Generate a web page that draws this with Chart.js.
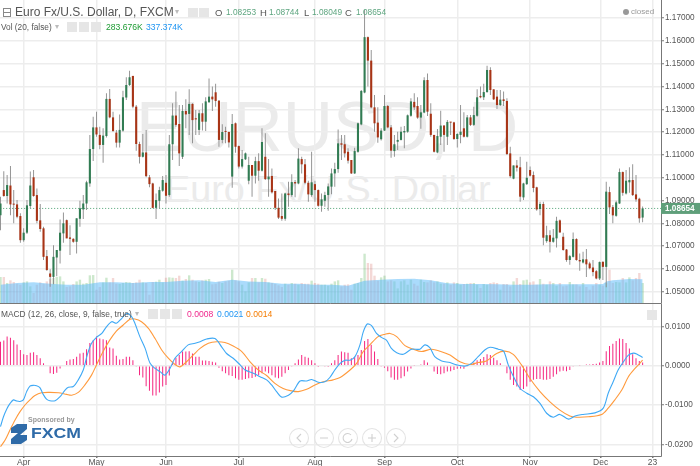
<!DOCTYPE html>
<html>
<head>
<meta charset="utf-8">
<title>EURUSD, D</title>
<script src="https://cdn.jsdelivr.net/npm/chart.js@4/dist/chart.umd.min.js"></script>
<style>
  html, body { margin: 0; padding: 0; background: #fff; }
  #page { position: relative; width: 700px; height: 466px; overflow: hidden; font-family: "Liberation Sans", Arial, sans-serif; color: #555; }
  canvas { position: absolute; left: 0; z-index: 1; }
  .txt { position: absolute; white-space: nowrap; z-index: 2; }
  .wm { position: absolute; white-space: nowrap; color: #ebebeb; z-index: 0; line-height: 1; }
  .ico { position: absolute; background: #e6e6e6; z-index: 2; }
</style>
</head>
<body>
<div id="page">
  <div class="wm" style="left:136px;top:93px;font-size:69.5px">EURUSD, D</div>
  <div class="wm" style="left:165px;top:171px;font-size:37.8px">Euro Fx/U.S. Dollar</div>

  <canvas id="priceChart" width="700" height="304" style="top:0"></canvas>
  <canvas id="macdChart" width="700" height="162" style="top:304px"></canvas>

  <div class="txt" style="left:3px;top:8px;width:6px;height:7px;border:1px solid #888"></div>
  <div class="txt" style="left:4px;top:12px;width:6px;height:1px;background:#888"></div>
  <div class="txt" style="left:15px;top:5px;font-size:12px">Euro Fx/U.S. Dollar, D, FXCM</div>
  <div class="txt" style="left:175px;top:7px;font-size:8px;color:#bbb">▾</div>
  <div class="ico" style="left:188px;top:8px;width:10px;height:9px"></div>
  <div class="ico" style="left:199px;top:8px;width:10px;height:9px"></div>
  <div class="txt" style="left:215px;top:7px;font-size:9.5px">O</div>
  <div class="txt" style="left:226px;top:7px;font-size:8.3px;color:#5da57f">1.08253</div>
  <div class="txt" style="left:260px;top:7px;font-size:9.5px">H</div>
  <div class="txt" style="left:269px;top:7px;font-size:8.3px;color:#5da57f">1.08744</div>
  <div class="txt" style="left:304px;top:7px;font-size:9.5px">L</div>
  <div class="txt" style="left:312px;top:7px;font-size:8.3px;color:#5da57f">1.08049</div>
  <div class="txt" style="left:345px;top:7px;font-size:9.5px">C</div>
  <div class="txt" style="left:356px;top:7px;font-size:8.3px;color:#5da57f">1.08654</div>
  <div class="txt" style="left:623px;top:9px;width:6px;height:6px;border-radius:50%;background:#999"></div>
  <div class="txt" style="left:631px;top:7px;font-size:8px;color:#999">closed</div>

  <div class="txt" style="left:1px;top:22px;font-size:8.3px">Vol (20, false)</div>
  <div class="txt" style="left:55px;top:22px;font-size:8px;color:#bbb">▾</div>
  <div class="ico" style="left:67px;top:22px;width:10px;height:10px"></div>
  <div class="ico" style="left:79px;top:22px;width:10px;height:10px"></div>
  <div class="ico" style="left:91px;top:22px;width:10px;height:10px"></div>
  <div class="txt" style="left:106px;top:22px;font-size:8.6px;color:#1e9c34">283.676K</div>
  <div class="txt" style="left:146px;top:22px;font-size:8.6px;color:#2196f3">337.374K</div>

  <div class="txt" style="left:1px;top:309px;font-size:8.4px">MACD (12, 26, close, 9, false, true)</div>
  <div class="txt" style="left:135px;top:309px;font-size:8px;color:#bbb">▾</div>
  <div class="ico" style="left:148px;top:309px;width:10px;height:10px"></div>
  <div class="ico" style="left:160px;top:309px;width:10px;height:10px"></div>
  <div class="ico" style="left:172px;top:309px;width:10px;height:10px"></div>
  <div class="txt" style="left:187px;top:309px;font-size:8.6px;color:#f0288c">0.0008</div>
  <div class="txt" style="left:217px;top:309px;font-size:8.6px;color:#2196f3">0.0021</div>
  <div class="txt" style="left:246px;top:309px;font-size:8.6px;color:#f57c00">0.0014</div>
  <div class="ico" style="left:647px;top:310px;width:10px;height:10px"></div>

  <div class="txt" style="left:28px;top:416px;font-size:7px;color:#999;font-weight:bold">Sponsored by</div>
  <svg class="txt" style="left:0;top:415px" width="90" height="35">
    <path d="M11 13 L17 9 L27 9 L27 14 L20 20 L27 20 L27 25 L21 29 L11 29 L11 24 L18 18 L11 18 Z" fill="#2f6ba8"/>
    <text x="31" y="23" font-size="15" font-weight="bold" fill="#2f6ba8" textLength="50" lengthAdjust="spacingAndGlyphs">FXCM</text>
  </svg>
  <svg class="txt" style="left:285px;top:425px" width="125" height="26" fill="none" stroke="#e4e4e4" stroke-width="1.1">
    <circle cx="14" cy="13" r="9.5"/><circle cx="39" cy="13" r="9.5"/><circle cx="63" cy="13" r="9.5"/><circle cx="87" cy="13" r="9.5"/><circle cx="111" cy="13" r="9.5"/>
    <path d="M16 9 L12 13 L16 17 M35 13 L43 13 M83 13 L91 13 M87 9 L87 17 M109 9 L113 13 L109 17" stroke="#d0d0d0"/>
    <path d="M66 10 A4.5 4.5 0 1 0 67 14" stroke="#d0d0d0"/>
  </svg>
</div>

<script>
const opens = [
  1.0836,1.0946,1.0920,1.0966,1.0885,1.0883,1.0832,1.0726,1.0759,1.0876,1.1002,1.0924,1.0813,1.0778,1.0656,1.0580,1.0565,1.0650,1.0680,1.0756,
  1.0814,1.0738,1.0732,1.0719,1.0820,1.0861,1.0887,1.0975,1.1126,1.1221,1.1188,1.1144,1.1183,1.1346,1.1265,1.1198,1.1154,1.1207,1.1352,1.1407,
  1.1447,1.1312,1.1148,1.1092,1.1111,1.1002,1.0975,1.0868,1.0899,1.0943,1.0978,1.0924,1.1147,1.1273,1.1236,1.1092,1.1293,1.1280,1.1324,1.1261,
  1.1210,1.1283,1.1246,1.1331,1.1356,1.1375,1.1338,1.1166,1.1204,1.1201,1.1005,1.1239,1.1139,1.1049,1.1081,1.0987,1.1056,1.1009,1.1073,1.1031,
  1.1092,1.0993,1.1008,1.0942,1.0868,1.0832,1.0820,1.0931,1.0924,1.0981,1.0975,1.1082,1.1059,1.0978,1.0924,1.0972,1.0946,1.0877,1.0899,1.0924,
  1.0961,1.1019,1.1038,1.1151,1.1147,1.1114,1.1078,1.1019,1.1114,1.1234,1.1374,1.1617,1.1514,1.1309,1.1242,1.1169,1.1207,1.1315,1.1221,1.1117,
  1.1158,1.1166,1.1199,1.1202,1.1272,1.1333,1.1315,1.1264,1.1286,1.1429,1.1281,1.1188,1.1111,1.1180,1.1229,1.1180,1.1245,1.1243,1.1170,1.1188,
  1.1217,1.1180,1.1265,1.1232,1.1272,1.1359,1.1353,1.1376,1.1473,1.1388,1.1356,1.1319,1.1344,1.1337,1.1107,1.0996,1.1054,1.1046,1.0914,1.0972,
  1.1034,1.1012,1.0958,1.0863,1.0885,1.0722,1.0748,1.0719,1.0734,1.0813,1.0741,1.0685,1.0639,1.0653,1.0731,1.0639,1.0628,1.0642,1.0624,1.0606,
  1.0590,1.0558,1.0631,1.0609,1.0937,1.0871,1.0833,1.0887,1.1025,1.0931,1.0980,1.0990,1.0927,1.0908,1.08253
];
const highs = [
  1.0917,1.1029,1.1012,1.1052,1.0946,1.0902,1.0844,1.0778,1.0902,1.1027,1.1034,1.0953,1.0885,1.0785,1.0683,1.0598,1.0704,1.0683,1.0817,1.0847,
  1.0817,1.0792,1.0734,1.0822,1.0899,1.0924,1.0987,1.1188,1.1268,1.1290,1.1224,1.1217,1.1371,1.1390,1.1290,1.1210,1.1278,1.1382,1.1441,1.1469,
  1.1447,1.1319,1.1158,1.1192,1.1210,1.1012,1.0978,1.0931,1.0961,1.1008,1.1012,1.1188,1.1327,1.1378,1.1319,1.1319,1.1344,1.1388,1.1327,1.1297,
  1.1297,1.1327,1.1353,1.1436,1.1400,1.1412,1.1341,1.1235,1.1224,1.1202,1.1280,1.1242,1.1141,1.1122,1.1111,1.1092,1.1056,1.1092,1.1107,1.1217,
  1.1195,1.1082,1.1041,1.0942,1.0909,1.0931,1.0934,1.0983,1.1015,1.0990,1.1129,1.1092,1.1082,1.0987,1.1114,1.0987,1.0949,1.0931,1.0939,1.0975,
  1.1041,1.1066,1.1212,1.1188,1.1188,1.1129,1.1078,1.1132,1.1242,1.1385,1.1736,1.1620,1.1561,1.1363,1.1309,1.1217,1.1363,1.1319,1.1232,1.1188,
  1.1202,1.1224,1.1227,1.1278,1.1349,1.1371,1.1353,1.1319,1.1441,1.1458,1.1327,1.1188,1.1214,1.1294,1.1232,1.1253,1.1245,1.1246,1.1195,1.1319,
  1.1287,1.1275,1.1275,1.1312,1.1388,1.1400,1.1412,1.1492,1.1485,1.1388,1.1385,1.1385,1.1378,1.1349,1.1136,1.1054,1.1078,1.1092,1.0978,1.1070,
  1.1049,1.1027,1.0961,1.0895,1.0895,1.0789,1.0770,1.0775,1.0829,1.0817,1.0759,1.0687,1.0661,1.0760,1.0734,1.0668,1.0675,1.0687,1.0631,1.0639,
  1.0595,1.0633,1.0634,1.0983,1.0961,1.0880,1.0899,1.1041,1.1027,1.1034,1.1046,1.1059,1.1012,1.0912,1.08744
];
const lows = [
  1.0770,1.0917,1.0887,1.0836,1.0800,1.0822,1.0715,1.0719,1.0753,1.0866,1.0917,1.0800,1.0763,1.0639,1.0592,1.0522,1.0533,1.0568,1.0624,1.0715,
  1.0734,1.0661,1.0715,1.0668,1.0785,1.0819,1.0858,1.0961,1.1073,1.1180,1.1125,1.1066,1.1177,1.1261,1.1202,1.1133,1.1133,1.1202,1.1341,1.1403,
  1.1305,1.1119,1.1063,1.1089,1.1002,1.0958,1.0866,1.0819,1.0866,1.0939,1.0887,1.0917,1.1078,1.1224,1.1052,1.1082,1.1217,1.1188,1.1151,1.1188,
  1.1188,1.1207,1.1205,1.1330,1.1293,1.1312,1.1136,1.1151,1.1151,1.1133,1.0956,1.1110,1.1041,1.1041,1.1078,1.0972,1.0917,1.0975,1.0987,1.1027,
  1.0990,1.0917,1.0931,1.0858,1.0819,1.0811,1.0811,1.0873,1.0917,1.0914,1.0972,1.1019,1.0972,1.0895,1.0917,1.0895,1.0873,1.0851,1.0873,1.0855,
  1.0928,1.0961,1.1022,1.1078,1.1089,1.1063,1.1016,1.1016,1.1110,1.1230,1.1371,1.1400,1.1305,1.1202,1.1154,1.1163,1.1205,1.1217,1.1088,1.1092,
  1.1122,1.1163,1.1129,1.1198,1.1268,1.1297,1.1259,1.1215,1.1283,1.1271,1.1180,1.1111,1.1107,1.1144,1.1114,1.1144,1.1188,1.1166,1.1133,1.1151,
  1.1177,1.1177,1.1227,1.1227,1.1268,1.1349,1.1341,1.1373,1.1363,1.1341,1.1302,1.1315,1.1315,1.1100,1.1000,1.0993,1.1027,1.0895,1.0902,1.0968,
  1.1005,1.0936,1.0855,1.0836,1.0704,1.0715,1.0672,1.0715,1.0694,1.0759,1.0680,1.0631,1.0618,1.0650,1.0636,1.0592,1.0624,1.0565,1.0598,1.0568,
  1.0555,1.0551,1.0551,1.0519,1.0841,1.0800,1.0829,1.0885,1.0921,1.0927,1.0934,1.0920,1.0895,1.0803,1.08049
];
const closes = [
  1.0887,1.0920,1.0968,1.0883,1.0882,1.0829,1.0726,1.0759,1.0879,1.0966,1.0920,1.0811,1.0775,1.0653,1.0595,1.0565,1.0653,1.0683,1.0759,1.0800,
  1.0734,1.0732,1.0719,1.0822,1.0866,1.0887,1.0980,1.1126,1.1221,1.1190,1.1144,1.1185,1.1346,1.1265,1.1205,1.1154,1.1210,1.1353,1.1407,1.1441,
  1.1312,1.1148,1.1092,1.1111,1.1007,1.0972,1.0868,1.0902,1.0946,1.0990,1.0921,1.1147,1.1273,1.1232,1.1107,1.1293,1.1278,1.1324,1.1253,1.1256,
  1.1283,1.1246,1.1335,1.1356,1.1344,1.1337,1.1166,1.1201,1.1201,1.1155,1.1236,1.1136,1.1049,1.1082,1.1107,1.1056,1.1009,1.1073,1.1031,1.1157,
  1.0994,1.1005,1.0936,1.0868,1.0825,1.0820,1.0931,1.0924,1.0981,1.0975,1.1084,1.1059,1.0978,1.0927,1.0980,1.0946,1.0877,1.0905,1.0924,1.0962,
  1.1019,1.1038,1.1151,1.1145,1.1107,1.1075,1.1019,1.1117,1.1239,1.1381,1.1617,1.1514,1.1309,1.1239,1.1177,1.1207,1.1315,1.1221,1.1119,1.1147,
  1.1166,1.1202,1.1205,1.1274,1.1335,1.1309,1.1264,1.1287,1.1428,1.1290,1.1188,1.1114,1.1183,1.1229,1.1188,1.1245,1.1242,1.1170,1.1192,1.1202,
  1.1180,1.1265,1.1232,1.1275,1.1353,1.1353,1.1376,1.1473,1.1385,1.1344,1.1319,1.1343,1.1337,1.1104,1.1007,1.1054,1.1044,1.0917,1.0975,1.1000,
  1.1009,1.0955,1.0861,1.0885,1.0737,1.0748,1.0719,1.0737,1.0811,1.0760,1.0683,1.0639,1.0656,1.0731,1.0639,1.0633,1.0642,1.0620,1.0603,1.0586,
  1.0558,1.0630,1.0609,1.0939,1.0870,1.0835,1.0892,1.1025,1.0934,1.0987,1.0990,1.0924,1.0905,1.0822,1.08654
];
const volumesK = [
  369,369,284,322,298,274,260,293,307,236,142,260,293,274,307,341,355,369,378,307,
  227,236,270,307,331,274,284,393,397,189,227,293,359,293,355,274,270,284,298,293,
  284,293,331,293,284,118,298,303,331,293,359,364,359,355,388,317,341,393,331,307,
  298,322,331,341,265,274,303,284,307,317,473,322,307,260,166,293,355,355,293,355,
  345,293,284,270,251,227,274,260,284,274,260,284,274,274,317,284,274,260,260,246,
  274,307,322,236,260,265,189,274,284,355,700,568,558,388,317,364,388,307,322,307,
  208,307,322,260,331,274,246,331,298,293,322,293,307,274,274,293,260,293,284,260,
  270,274,284,284,260,213,270,260,284,293,284,189,270,270,236,307,355,270,322,331,
  293,307,260,341,274,260,307,284,246,284,236,246,298,265,265,236,284,227,189,246,
  284,260,246,284,473,284,298,293,355,293,364,322,355,426,283.676
];
// vol moving average, read at the bars listed in volMaIdx
const volMaIdx = [0,5,10,15,20,25,30,35,40,45,50,55,60,65,70,75,80,85,90,95,100,105,110,115,120,125,130,135,140,145,150,155,160,165,170,175,180,182,183,185,190,194];
const volMaK = [260,284,293,274,260,260,293,293,284,298,298,317,322,298,331,307,298,274,274,260,260,246,317,331,341,345,322,279,270,270,265,260,260,265,265,265,265,270,307,322,341,337.374];

const macdHist = [
  .0061,.0064,.0074,.0071,.0065,.0054,.0040,.0029,.0027,.0033,.0034,.0027,.0019,.0006,-.0002,-.0019,-.0021,-.0018,-.0007,.0002,
  .0012,.0016,.0017,.0023,.0031,.0033,.0042,.0058,.0065,.0074,.0069,.0067,.0065,.0046,.0044,.0025,.0016,.0017,.0023,.0023,
  .0014,-.0003,-.0024,-.0030,-.0052,-.0064,-.0076,-.0076,-.0068,-.0053,-.0049,-.0025,.0010,.0020,.0027,.0036,.0036,.0037,.0031,.0023,
  .0023,.0013,.0013,.0012,.0010,.0008,-.0005,-.0014,-.0019,-.0024,-.0026,-.0032,-.0036,-.0036,-.0034,-.0032,-.0031,-.0028,-.0024,-.0019,
  -.0015,-.0019,-.0024,-.0030,-.0032,-.0028,-.0019,-.0011,-.0003,.0006,.0016,.0027,.0023,.0020,.0014,.0006,-.0001,-.0002,-.0003,-.0001,
  .0006,.0014,.0027,.0036,.0034,.0033,.0019,.0023,.0027,.0040,.0063,.0068,.0053,.0036,.0017,-.0003,-.0005,-.0014,-.0030,-.0036,
  -.0036,-.0032,-.0027,-.0015,-.0007,.0001,.0002,.0003,.0014,.0008,.0000,-.0015,-.0021,-.0022,-.0019,-.0015,-.0014,-.0011,-.0008,-.0007,
  -.0008,-.0003,.0002,.0008,.0014,.0017,.0022,.0029,.0027,.0020,.0014,.0006,.0000,-.0019,-.0036,-.0049,-.0053,-.0062,-.0059,-.0053,
  -.0041,-.0036,-.0034,-.0034,-.0036,-.0036,-.0034,-.0028,-.0022,-.0015,-.0013,-.0014,-.0011,-.0003,.0000,.0001,.0002,.0003,.0003,.0004,
  .0005,.0008,.0012,.0037,.0050,.0056,.0063,.0069,.0068,.0058,.0044,.0029,.0019,.0012,.0008
];
// macd lines, read at the bar positions listed with them
const macdIdx = [0,.9,1.9,2.9,3.9,4.9,5.9,6.9,7.9,8.9,9.9,10.9,11.9,12.9,13.9,14.9,16.5,18,19.5,20.5,22,23.5,25,26.2,27.5,29,30.6,32,33.6,35,36.6,38.1,39.6,40.6,42.1,43.7,45.2,46.7,48.2,49.7,51.2,52.7,54.7,56.7,58.8,60.3,62.3,64.8,66.8,68.3,70.3,72.4,73.9,76.4,78.4,80.4,81.9,83.4,85,87,88.5,90.5,92.5,94,96,98,99.5,101,102.6,104.1,105.6,107.1,108.6,109.6,110.8,112.1,113.6,115.1,116.6,118.1,119.7,121.7,124.2,126.7,128.2,129.7,131.2,133.3,135.8,137.8,140.3,142.3,144.3,146.3,147.9,150.4,152,153.4,155,157,159,161,163,165,167,169,171.6,173.6,176,179.6,182.1,183.6,185.1,186.6,188.2,189.7,191.2,192.2,194];
const macdLine = [-.0155,-.0130,-.0110,-.0096,-.0087,-.0090,-.0091,-.0087,-.0066,-.0052,-.0050,-.0051,-.0056,-.0073,-.0085,-.0089,-.0089,-.0079,-.0062,-.0055,-.0053,-.0036,-.0011,.0027,.0057,.0072,.0082,.0099,.0112,.0108,.0120,.0133,.0125,.0108,.0074,.0044,.0006,-.0007,-.0015,-.0024,-.0007,.0019,.0036,.0053,.0057,.0061,.0068,.0069,.0048,.0031,.0019,.0002,-.0011,-.0019,-.0028,-.0036,-.0049,-.0066,-.0080,-.0075,-.0064,-.0039,-.0039,-.0035,-.0042,-.0041,-.0030,-.0011,.0006,.0014,.0014,.0023,.0053,.0086,.0106,.0102,.0082,.0072,.0065,.0044,.0033,.0029,.0042,.0042,.0053,.0046,.0023,.0012,.0008,.0002,-.0001,.0006,.0023,.0040,.0047,.0042,.0037,.0002,-.0028,-.0058,-.0070,-.0079,-.0096,-.0121,-.0131,-.0124,-.0136,-.0128,-.0124,-.0120,-.0108,-.0070,-.0041,-.0011,.0010,.0027,.0032,.0030,.0021];
const signalIdx = [0,1.4,2.9,4.4,5.9,7.4,8.9,10.4,12.4,15,17.5,20,21.5,23.5,25.5,27.5,29,31,33,35,37,39.1,40.6,42.6,44.7,46.7,48.7,50.7,52.7,54.2,56.2,58.2,60.3,62.8,65.3,67.8,70.3,72.9,75.4,77.9,80.4,82.9,85.4,87.9,90,92.5,95,97.5,100.5,102.6,105.6,107.6,109.6,111.6,114.1,116.2,117.7,119.7,122.2,124.7,127.2,130.2,132.8,135.8,138.8,141.8,144.3,146.8,149.9,152.4,154.9,157.4,159.9,163,166,169,172,174,177.6,181.6,183.6,185.6,187.7,189.7,191.7,194];
const signalLine = [-.0206,-.0189,-.0163,-.0138,-.0117,-.0100,-.0087,-.0076,-.0069,-.0068,-.0069,-.0073,-.0075,-.0068,-.0049,-.0024,.0002,.0036,.0065,.0088,.0103,.0118,.0119,.0112,.0095,.0069,.0040,.0019,.0003,-.0003,.0010,.0027,.0044,.0057,.0061,.0059,.0050,.0036,.0010,-.0011,-.0025,-.0045,-.0058,-.0064,-.0066,-.0060,-.0049,-.0041,-.0036,-.0030,-.0011,.0006,.0036,.0053,.0074,.0080,.0082,.0074,.0051,.0042,.0036,.0042,.0037,.0027,.0010,.0003,.0008,.0012,.0031,.0037,.0029,.0002,-.0032,-.0066,-.0092,-.0113,-.0128,-.0131,-.0130,-.0124,-.0108,-.0087,-.0062,-.0028,-.0007,.0014];

const monthIdx = [7,29,50,72,95,116,138,160,181.3,197];
const monthLabels = ['Apr','May','Jun','Jul','Aug','Sep','Oct','Nov','Dec','23'];
const priceTicks = [1.05,1.06,1.07,1.08,1.09,1.10,1.11,1.12,1.13,1.14,1.15,1.16,1.17];
const macdTicks = [-0.02,-0.01,0,0.01];
const lastClose = closes[closes.length - 1];

const GRID = '#ededed';
const AXIS = '#777';
const xRange = { type: 'linear', min: -0.15, max: 199.55, offset: false };

function monthTicks(scale) {
    scale.ticks = monthIdx.map(v => ({ value: v }));
}

// chart.js insets the plot for overflowing labels, we want the full canvas
function noPad(s) {
    s.paddingTop = s.paddingBottom = s.paddingLeft = s.paddingRight = 0;
}

function yAxis(ticks, min, max, fmt) {
    return {
        position: 'right', min, max,
        afterFit: s => { s.width = 39; noPad(s); },
        afterBuildTicks: s => { s.ticks = ticks.map(v => ({ value: v })); },
        grid: { color: GRID, lineWidth: 1.5, tickColor: AXIS, tickLength: 3, tickWidth: 1 },
        border: { color: AXIS },
        ticks: { color: '#555', font: { size: 8.2, family: 'Liberation Sans' }, padding: 1, callback: fmt }
    };
}

const up = opens.map((o, i) => closes[i] >= o);

// last price tag on the axis
const priceTag = {
    id: 'priceTag',
    afterDraw(chart) {
        const ctx = chart.ctx, y = chart.scales.y.getPixelForValue(lastClose);
        ctx.save();
        ctx.fillStyle = '#5f9f7a';
        ctx.fillRect(661, y - 5.5, 39, 11);
        ctx.fillStyle = '#fff';
        ctx.font = 'bold 8.2px "Liberation Sans"';
        ctx.textBaseline = 'middle';
        ctx.fillText(lastClose.toFixed(5), 665, y + 0.5);
        ctx.restore();
    }
};

new Chart(document.getElementById('priceChart').getContext('2d'), {
    type: 'bar',
    data: {
        datasets: [
            { label: 'body', order: 1, grouped: false, maxBarThickness: 2.1, minBarLength: 1,
              backgroundColor: up.map(u => u ? '#317c53' : '#a83416'),
              data: opens.map((o, i) => ({ x: i, y: [o, closes[i]] })) },
            { label: 'wick', order: 2, grouped: false, maxBarThickness: 0.9, backgroundColor: '#8a8a8a',
              data: lows.map((l, i) => ({ x: i, y: [l, highs[i]] })) },
            { label: 'last', type: 'line', order: 3, borderColor: '#4fa274', borderWidth: 1, borderDash: [1, 2], pointRadius: 0,
              data: [{ x: -1, y: lastClose }, { x: 200, y: lastClose }] },
            { label: 'volMa', type: 'line', order: 4, yAxisID: 'yVol', fill: 'origin', pointRadius: 0, borderWidth: 0,
              backgroundColor: 'rgba(100,190,250,0.55)',
              data: volMaIdx.map((x, i) => ({ x, y: volMaK[i] })) },
            { label: 'vol', order: 5, yAxisID: 'yVol', grouped: false, maxBarThickness: 2.7,
              backgroundColor: up.map(u => u ? 'rgba(70,170,70,0.27)' : 'rgba(200,60,50,0.2)'),
              data: volumesK.map((v, i) => ({ x: i, y: v })) }
        ]
    },
    options: {
        responsive: false, animation: false, events: [],
        layout: { padding: 0 },
        plugins: { legend: { display: false }, tooltip: { enabled: false } },
        scales: {
            x: { ...xRange, afterBuildTicks: monthTicks, afterFit: s => { s.height = 1; noPad(s); },
                 grid: { color: GRID, lineWidth: 1.5, offset: false, drawTicks: false }, border: { color: AXIS },
                 ticks: { display: false } },
            y: yAxis(priceTicks, 1.04504, 1.178, v => v.toFixed(5)),
            yVol: { display: false, min: 0, max: 4303 }
        }
    },
    plugins: [priceTag]
});

new Chart(document.getElementById('macdChart').getContext('2d'), {
    type: 'bar',
    data: {
        datasets: [
            { label: 'macd', type: 'line', order: 1, borderColor: '#3fa9f5', borderWidth: 1.1, pointRadius: 0, tension: 0.3,
              data: macdIdx.map((x, i) => ({ x, y: macdLine[i] })) },
            { label: 'signal', type: 'line', order: 2, borderColor: '#ff9a3c', borderWidth: 1.1, pointRadius: 0, tension: 0.3,
              data: signalIdx.map((x, i) => ({ x, y: signalLine[i] })) },
            { label: 'hist', order: 3, grouped: false, maxBarThickness: 1, backgroundColor: '#f5257f',
              data: macdHist.map((v, i) => ({ x: i, y: v })) }
        ]
    },
    options: {
        responsive: false, animation: false, events: [],
        layout: { padding: 0 },
        plugins: { legend: { display: false }, tooltip: { enabled: false } },
        scales: {
            x: { ...xRange, afterBuildTicks: monthTicks, afterFit: s => { s.height = 10; noPad(s); },
                 grid: { color: GRID, lineWidth: 1.5, offset: false, tickColor: AXIS, tickLength: 2 }, border: { color: AXIS },
                 ticks: { color: '#555', font: { size: 8.5, family: 'Liberation Sans' }, padding: 0, autoSkip: false, maxRotation: 0,
                          callback: (v, i) => monthLabels[i] } },
            y: yAxis(macdTicks, -0.02298, 0.0157, v => v.toFixed(4))
        }
    }
});
</script>
</body>
</html>
